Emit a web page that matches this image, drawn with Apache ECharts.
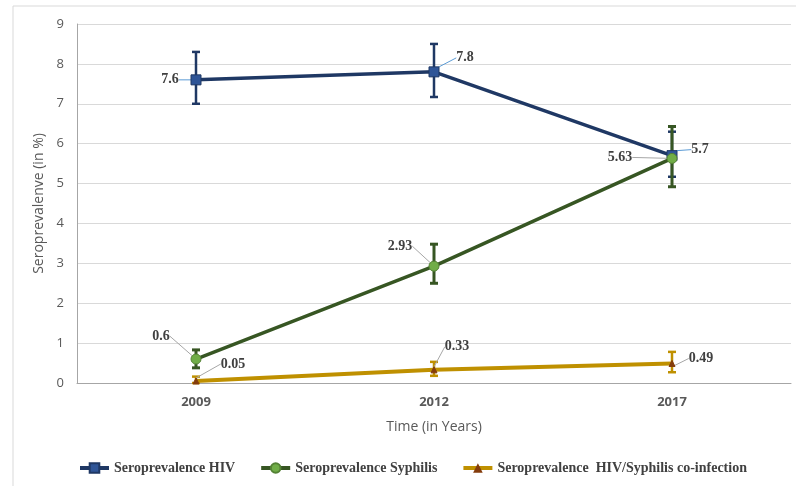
<!DOCTYPE html>
<html>
<head>
<meta charset="utf-8">
<script src="https://cdn.jsdelivr.net/npm/echarts@6/dist/echarts.min.js"></script>
<style>html,body{margin:0;padding:0;background:#fff;}#c{width:796px;height:486px;}</style>
</head>
<body>
<div id="c"></div>
<script>
// ---- data ----
var years = ['2009', '2012', '2017'];
var yTicks = [0, 1, 2, 3, 4, 5, 6, 7, 8, 9];
var seriesNames = ['Seroprevalence HIV', 'Seroprevalence Syphilis', 'Seroprevalence  HIV/Syphilis co-infection'];
var hivValues = [7.6, 7.8, 5.7];
var hivLow = [7.0, 7.17, 5.17];
var hivHigh = [8.3, 8.5, 6.3];
var syphValues = [0.6, 2.93, 5.63];
var syphLow = [0.38, 2.5, 4.92];
var syphHigh = [0.83, 3.48, 6.43];
var coValues = [0.05, 0.33, 0.49];
var coLow = [0.0, 0.18, 0.27];
var coHigh = [0.16, 0.53, 0.78];

// ---- styles (label offsets in px from point centre) ----
var labelOffsets = [
  [[-26, 0], [31, -14], [28, -6]],
  [[-35, -23], [-34, -20], [-52, -1]],
  [[37, -17], [23, -23], [29, -5]]
];
var colors = { hiv: '#1f3864', syph: '#375623', co: '#bf9000' };

var chart = echarts.init(document.getElementById('c'));
var serifFont = '"Liberation Serif", "DejaVu Serif", serif';
var sansFont = '"Open Sans", "Noto Sans", sans-serif';

function errSeries(name, low, high, color, width, z) {
  return {
    type: 'custom',
    name: name + ' err',
    z: z,
    silent: true,
    data: years.map(function (y, i) { return [i, low[i], high[i]]; }),
    renderItem: function (params, api) {
      var x = api.value(0);
      var a = api.coord([x, api.value(1)]);
      var b = api.coord([x, api.value(2)]);
      var hw = 4;
      var st = { stroke: color, lineWidth: width };
      return {
        type: 'group',
        children: [
          { type: 'line', shape: { x1: a[0], y1: a[1], x2: b[0], y2: b[1] }, style: st },
          { type: 'line', shape: { x1: a[0] - hw, y1: a[1], x2: a[0] + hw, y2: a[1] }, style: st },
          { type: 'line', shape: { x1: b[0] - hw, y1: b[1], x2: b[0] + hw, y2: b[1] }, style: st }
        ]
      };
    },
    encode: { x: 0, y: [1, 2] },
    tooltip: { show: false }
  };
}

function makeLayout(si) {
  return function (p) {
    var off = labelOffsets[si][p.dataIndex];
    var cx = p.rect.x + p.rect.width / 2;
    var cy = p.rect.y + p.rect.height / 2;
    return { x: cx + off[0], y: cy + off[1], align: 'center', verticalAlign: 'middle' };
  };
}

var labelStyle = {
  show: true,
  fontFamily: serifFont,
  fontWeight: 'bold',
  fontSize: 14,
  color: '#404040'
};

var option = {
  animation: false,
  graphic: [{
    type: 'rect',
    shape: { x: 13, y: 6, width: 800, height: 520 },
    style: { fill: 'none', stroke: '#d9d9d9', lineWidth: 1 },
    silent: true,
    z: -10
  }],
  grid: { left: 77, right: 5, top: 24, bottom: 103, containLabel: false },
  legend: {
    left: 78,
    top: 461,
    padding: 0,
    itemWidth: 29,
    itemHeight: 12,
    itemGap: 24,
    data: seriesNames,
    lineStyle: { width: 4 },
    textStyle: { fontFamily: serifFont, fontWeight: 'bold', fontSize: 14, color: '#404040' }
  },
  xAxis: {
    type: 'category',
    data: years,
    boundaryGap: true,
    axisTick: { show: false },
    axisLine: { lineStyle: { color: '#a6a6a6', width: 1 } },
    axisLabel: { color: '#595959', fontWeight: 'bold', fontSize: 13, fontFamily: sansFont, margin: 13 },
    name: 'Time (in Years)',
    nameLocation: 'middle',
    nameGap: 37,
    nameTextStyle: { color: '#595959', fontSize: 14, fontFamily: sansFont }
  },
  yAxis: {
    type: 'value',
    min: yTicks[0],
    max: yTicks[yTicks.length - 1],
    interval: 1,
    axisLine: { show: true, lineStyle: { color: '#a6a6a6', width: 1 } },
    axisTick: { show: false },
    splitLine: { lineStyle: { color: '#d9d9d9', width: 1 } },
    axisLabel: { color: '#595959', fontSize: 13, fontFamily: sansFont, margin: 13 },
    name: 'Seroprevalenve (in %)',
    nameLocation: 'middle',
    nameGap: 27,
    nameRotate: 90,
    nameTextStyle: { color: '#595959', fontSize: 14, fontFamily: sansFont }
  },
  series: [
    errSeries('hiv', hivLow, hivHigh, colors.hiv, 2.5, 1),
    errSeries('syph', syphLow, syphHigh, colors.syph, 3, 2),
    errSeries('co', coLow, coHigh, colors.co, 2.5, 1),
    {
      type: 'line',
      name: seriesNames[0],
      data: hivValues,
      z: 5,
      symbol: 'rect',
      symbolSize: 10,
      lineStyle: { color: colors.hiv, width: 3.5 },
      itemStyle: { color: '#2f5597', borderColor: colors.hiv, borderWidth: 1 },
      label: labelStyle,
      labelLine: { show: true, lineStyle: { color: '#5b9bd5', width: 1 } },
      labelLayout: makeLayout(0)
    },
    {
      type: 'line',
      name: seriesNames[1],
      data: syphValues,
      z: 6,
      symbol: 'circle',
      symbolSize: 10,
      lineStyle: { color: colors.syph, width: 3.5 },
      itemStyle: { color: '#70ad47', borderColor: '#548235', borderWidth: 1 },
      label: labelStyle,
      labelLine: { show: true, lineStyle: { color: '#a6a6a6', width: 1 } },
      labelLayout: makeLayout(1)
    },
    {
      type: 'line',
      name: seriesNames[2],
      data: coValues,
      z: 4,
      symbol: 'triangle',
      symbolSize: 6,
      lineStyle: { color: colors.co, width: 4 },
      itemStyle: { color: '#843c0c', borderColor: '#843c0c' },
      label: labelStyle,
      labelLine: { show: true, lineStyle: { color: '#a6a6a6', width: 1 } },
      labelLayout: makeLayout(2)
    }
  ]
};
chart.setOption(option);
</script>
</body>
</html>
